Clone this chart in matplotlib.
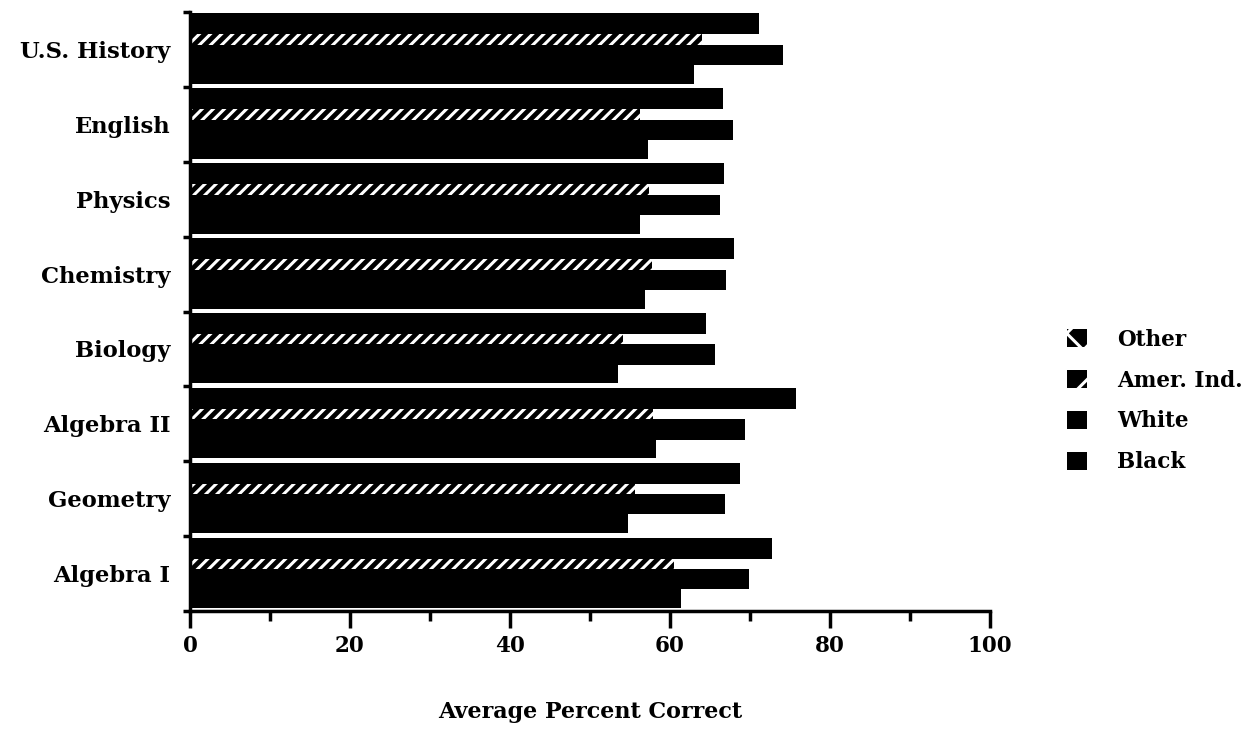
import matplotlib
matplotlib.use("Agg")
import matplotlib.pyplot as plt
from matplotlib.patches import Patch
import numpy as np

# Data (bottom to top)
categories = ["Algebra I", "Geometry", "Algebra II", "Biology",
              "Chemistry", "Physics", "English", "U.S. History"]
other      = [72.8, 68.7, 75.8, 64.5, 68.0, 66.8, 66.6, 71.1]
amer_ind   = [60.5, 55.6, 57.9, 54.1, 57.8, 57.4, 56.2, 64.0]
white      = [69.9, 66.9, 69.4, 65.6, 67.0, 66.2, 67.9, 74.1]
black      = [61.4, 54.7, 58.3, 53.5, 56.9, 56.3, 57.3, 63.0]
series_names = ["Other", "Amer. Ind.", "White", "Black"]
x_ticks = [0, 20, 40, 60, 80, 100]

plt.rcParams['font.family'] = ['DejaVu Serif']
plt.rcParams['font.weight'] = 'bold'
plt.rcParams['hatch.linewidth'] = 2.2

fig = plt.figure(figsize=(12.57, 7.31), dpi=100)
ax = fig.add_axes([190/1257, 1-611/731, 800/1257, (611-12)/731])

y = np.arange(len(categories))
# (center offset, height) for each series within a group
layout = {"Other": (0.34, 0.28), "Amer. Ind.": (0.13, 0.14),
          "White": (-0.075, 0.27), "Black": (-0.335, 0.25)}

ax.barh(y + layout["Other"][0], other, height=layout["Other"][1],
        color="black", linewidth=0)
ax.barh(y + layout["Amer. Ind."][0], amer_ind, height=layout["Amer. Ind."][1],
        facecolor="black", edgecolor="white", linewidth=0, hatch="///")
ax.barh(y + layout["White"][0], white, height=layout["White"][1],
        color="black", linewidth=0)
ax.barh(y + layout["Black"][0], black, height=layout["Black"][1],
        color="black", linewidth=0)

ax.set_xlim(0, 100)
ax.set_ylim(-0.5, len(categories) - 0.5)

for s in ["top", "right"]:
    ax.spines[s].set_visible(False)
for s in ["left", "bottom"]:
    ax.spines[s].set_linewidth(2.5)

ax.set_xticks(x_ticks)
ax.set_xticklabels([str(v) for v in x_ticks], fontsize=15.5, fontweight='bold')
ax.set_xticks(np.arange(10, 100, 20), minor=True)
ax.tick_params(axis='x', which='major', length=12, width=2.5, pad=5, direction='out')
ax.tick_params(axis='x', which='minor', length=7, width=2.5, direction='out')

ax.set_yticks(np.arange(-0.5, len(categories), 1.0))
ax.set_yticklabels([])
ax.set_yticks(y, minor=True)
ax.set_yticklabels(categories, minor=True, fontsize=16.3, fontweight='bold')
ax.tick_params(axis='y', which='major', length=5, width=2.5, direction='out')
ax.tick_params(axis='y', which='minor', length=0, pad=14)

ax.set_xlabel("Average Percent Correct", fontsize=16, fontweight='bold', labelpad=32)

handles = [
    Patch(facecolor="black", edgecolor="white", linewidth=0, hatch="x"),
    Patch(facecolor="black", edgecolor="white", linewidth=0, hatch="/"),
    Patch(facecolor="black", linewidth=0),
    Patch(facecolor="black", linewidth=0),
]
fig.legend(handles, series_names, loc="center left",
           bbox_to_anchor=(1048/1257, 1-401/731), frameon=False,
           fontsize=15.5, handlelength=0.9, handleheight=0.9,
           handletextpad=1.4, labelspacing=0.88)

fig.savefig("out.png", dpi=100)
